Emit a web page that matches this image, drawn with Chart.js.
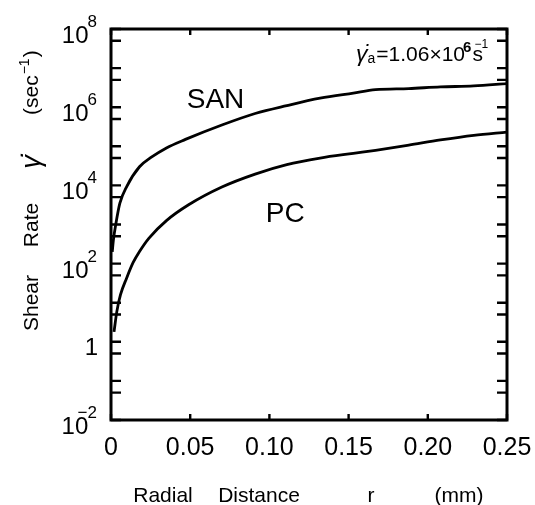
<!DOCTYPE html>
<html>
<head>
<meta charset="utf-8">
<script src="https://cdn.jsdelivr.net/npm/chart.js@4.4.1/dist/chart.umd.min.js"></script>
<style>
    html, body { margin: 0; padding: 0; background: #fff; }
</style>
</head>
<body>
<canvas id="shearChart" width="535" height="505"></canvas>
<script>
// Shear rate across the radius (r in mm, rate in 1/s)
const sanR = [0.0008, 0.0015, 0.003, 0.0056, 0.010, 0.018, 0.025, 0.035, 0.047, 0.070, 0.091, 0.111, 0.132, 0.153, 0.167, 0.188, 0.208, 0.229, 0.250];
const sanRate = [200, 400, 1000, 3500, 9500, 3.0e4, 5.1e4, 9.1e4, 1.5e5, 3.5e5, 6.9e5, 1.1e6, 1.7e6, 2.3e6, 2.8e6, 3.0e6, 3.3e6, 3.5e6, 4.0e6];

const pcR = [0.0019, 0.0037, 0.006, 0.0099, 0.014, 0.018, 0.024, 0.035, 0.049, 0.070, 0.091, 0.111, 0.132, 0.153, 0.167, 0.188, 0.208, 0.229, 0.250];
const pcRate = [1.8, 6, 16, 43, 107, 204, 450, 1260, 3200, 9100, 1.95e4, 3.4e4, 5.0e4, 6.6e4, 7.9e4, 1.07e5, 1.45e5, 1.9e5, 2.3e5];

// axis ticks
const xTickValues = [0, 0.05, 0.10, 0.15, 0.20, 0.25];
const xTickLabels = ['0', '0.05', '0.10', '0.15', '0.20', '0.25'];
const yTickMarks = [0.01, 0.05, 0.1, 0.5, 1, 5, 10, 50, 100, 500, 1e3, 5e3, 1e4, 5e4, 1e5, 5e5, 1e6, 5e6, 1e7, 5e7, 1e8];
const yLabelExps = [-2, 0, 2, 4, 6, 8];

const FONT = '"Liberation Sans", Arial, sans-serif';

function toPoints(rs, rates) {
    return rs.map((r, i) => ({ x: r, y: rates[i] }));
}

// frame, inward ticks and all the lettering
const frameAndText = {
    id: 'frameAndText',
    afterDraw(chart) {
        const { ctx, chartArea: a, scales: { x, y } } = chart;
        ctx.save();
        ctx.strokeStyle = '#000';
        ctx.fillStyle = '#000';

        ctx.lineWidth = 3;
        ctx.strokeRect(a.left, a.top, a.right - a.left, a.bottom - a.top);

        ctx.lineWidth = 2.4;
        ctx.beginPath();
        y.ticks.forEach(t => {
            const py = y.getPixelForValue(t.value);
            ctx.moveTo(a.left, py); ctx.lineTo(a.left + 10, py);
            ctx.moveTo(a.right, py); ctx.lineTo(a.right - 10, py);
        });
        x.ticks.forEach(t => {
            const px = x.getPixelForValue(t.value);
            ctx.moveTo(px, a.bottom); ctx.lineTo(px, a.bottom - 6);
            ctx.moveTo(px, a.top); ctx.lineTo(px, a.top + 6);
        });
        ctx.stroke();

        // y tick labels with raised exponents
        ctx.textBaseline = 'alphabetic';
        const right = a.left - 14;
        yLabelExps.forEach(e => {
            const py = y.getPixelForValue(Math.pow(10, e));
            if (e === 0) {
                ctx.font = '24px ' + FONT;
                ctx.textAlign = 'right';
                ctx.fillText('1', right + 1, py + 13);
                return;
            }
            const exp = e < 0 ? '\u2212' + (-e) : String(e);
            ctx.font = '17px ' + FONT;
            const wExp = ctx.measureText(exp).width;
            ctx.textAlign = 'left';
            ctx.fillText(exp, right - wExp, py - 2);
            ctx.font = '24px ' + FONT;
            ctx.textAlign = 'right';
            ctx.fillText('10', right - wExp + (e < 0 ? wExp * 0.55 : 1), py + 14);
        });

        // x tick labels
        ctx.font = '25px ' + FONT;
        ctx.textAlign = 'center';
        xTickValues.forEach((v, i) => {
            ctx.fillText(xTickLabels[i], x.getPixelForValue(v), a.bottom + 35);
        });

        // x title
        ctx.font = '21px ' + FONT;
        ctx.fillText('Radial', 163, 502);
        ctx.fillText('Distance', 259, 502);
        ctx.fillText('r', 371, 502);
        ctx.fillText('(mm)', 459, 502);

        // y title, rotated
        ctx.save();
        ctx.translate(32, 0);
        ctx.rotate(-Math.PI / 2);
        ctx.textBaseline = 'middle';
        ctx.font = '21px ' + FONT;
        ctx.fillText('Shear', -303, 0);
        ctx.fillText('Rate', -225, 0);
        ctx.font = 'italic 27px ' + FONT;
        ctx.fillText('\u03B3\u0307', -162, 0);
        ctx.font = '21px ' + FONT;
        ctx.textAlign = 'left';
        let cx = -115;
        ctx.fillText('(sec', cx, 0);
        cx += ctx.measureText('(sec').width;
        ctx.font = '14px ' + FONT;
        ctx.fillText('\u22121', cx + 1, -7);
        cx += ctx.measureText('\u22121').width + 2;
        ctx.font = '21px ' + FONT;
        ctx.fillText(')', cx, 0);
        ctx.restore();

        // curve names
        ctx.font = '28px ' + FONT;
        ctx.textAlign = 'center';
        ctx.textBaseline = 'middle';
        ctx.fillText('SAN', x.getPixelForValue(0.066), y.getPixelForValue(1.5e6));
        ctx.fillText('PC', x.getPixelForValue(0.110), y.getPixelForValue(1.8e3));

        // apparent wall shear rate note
        ctx.textAlign = 'left';
        ctx.textBaseline = 'alphabetic';
        let nx = 356;
        const base = 61;
        ctx.font = 'italic 23px ' + FONT;
        ctx.fillText('\u03B3\u0307', nx, base);
        nx += ctx.measureText('\u03B3').width;
        ctx.font = '14px ' + FONT;
        ctx.fillText('a', nx, base + 2);
        nx += ctx.measureText('a').width + 1;
        ctx.font = '21px ' + FONT;
        ctx.fillText('=1.06\u00D710', nx, base);
        nx += ctx.measureText('=1.06\u00D710').width;
        ctx.font = 'bold 15px ' + FONT;
        ctx.fillText('6', nx - 2, base - 9);
        nx += ctx.measureText('6').width - 1;
        ctx.font = '21px ' + FONT;
        ctx.fillText('s', nx, base);
        ctx.font = '12px ' + FONT;
        ctx.fillText('\u22121', nx + 2, base - 13);

        ctx.restore();
    }
};

const ctx = document.getElementById('shearChart').getContext('2d');
const shearChart = new Chart(ctx, {
    type: 'line',
    data: {
        datasets: [
            {
                label: 'SAN',
                data: toPoints(sanR, sanRate),
                borderColor: '#000',
                borderWidth: 2.8,
                pointRadius: 0,
                cubicInterpolationMode: 'monotone'
            },
            {
                label: 'PC',
                data: toPoints(pcR, pcRate),
                borderColor: '#000',
                borderWidth: 2.8,
                pointRadius: 0,
                cubicInterpolationMode: 'monotone'
            }
        ]
    },
    options: {
        responsive: false,
        animation: false,
        devicePixelRatio: 1,
        layout: { padding: { left: 103, right: 28, top: 29, bottom: 77 } },
        plugins: {
            legend: { display: false },
            tooltip: { enabled: false }
        },
        scales: {
            x: {
                type: 'linear',
                min: 0,
                max: 0.25,
                afterBuildTicks: scale => { scale.ticks = xTickValues.map(v => ({ value: v })); },
                ticks: { display: false },
                grid: { display: false },
                border: { display: false }
            },
            y: {
                type: 'logarithmic',
                min: 0.01,
                max: 1e8,
                afterBuildTicks: scale => { scale.ticks = yTickMarks.map(v => ({ value: v })); },
                ticks: { display: false },
                grid: { display: false },
                border: { display: false }
            }
        }
    },
    plugins: [frameAndText]
});
</script>
</body>
</html>
